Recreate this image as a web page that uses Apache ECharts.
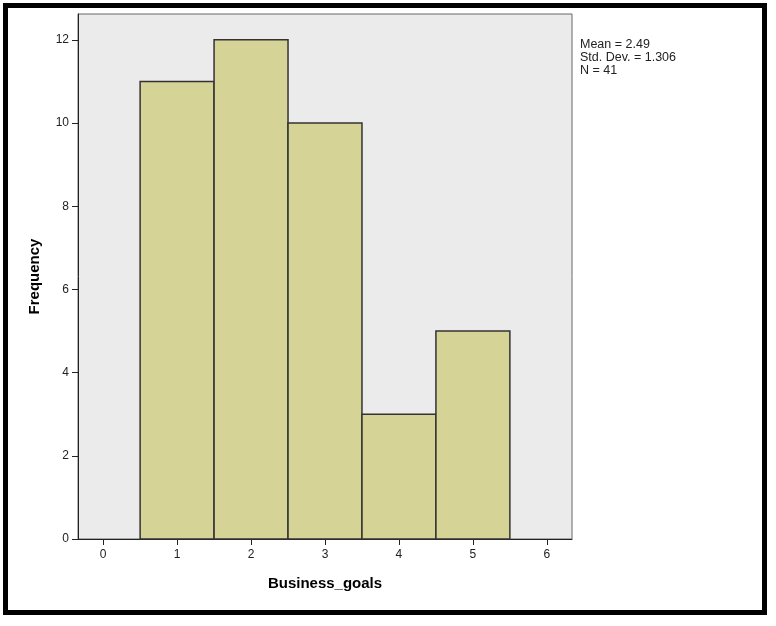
<!DOCTYPE html>
<html><head><meta charset="utf-8">
<script src="https://cdn.jsdelivr.net/npm/echarts@6/dist/echarts.min.js"></script>
<style>html,body{margin:0;padding:0;background:#fff}#c{width:776px;height:626px}</style>
</head><body><div id="c"></div>
<script>
const binStarts = [0.5, 1.5, 2.5, 3.5, 4.5];
const binEnds = [1.5, 2.5, 3.5, 4.5, 5.5];
const frequencies = [11, 12, 10, 3, 5];
const xTicks = [0, 1, 2, 3, 4, 5, 6];
const yTicks = [0, 2, 4, 6, 8, 10, 12];
const statsLines = ['Mean = 2.49', 'Std. Dev. = 1.306', 'N = 41'];
const xTitle = 'Business_goals';
const yTitle = 'Frequency';

const chart = echarts.init(document.getElementById('c'), null, {renderer: 'canvas'});
const data = frequencies.map((f, i) => [binStarts[i], binEnds[i], f]);
const font = 'Liberation Sans, Arial, sans-serif';
chart.setOption({
  animation: false,
  grid: {left: 78, top: 14, width: 494, height: 525, show: true, backgroundColor: '#ebebeb', borderColor: '#666', borderWidth: 1},
  xAxis: {
    type: 'value', min: -0.34, max: 6.34,
    name: xTitle, nameLocation: 'middle', nameGap: 37,
    nameTextStyle: {fontFamily: font, fontSize: 15, fontWeight: 'bold', color: '#000'},
    axisLine: {show: true, onZero: false, lineStyle: {color: '#222', width: 1}},
    axisTick: {show: true, customValues: xTicks, length: 6, lineStyle: {color: '#222'}},
    axisLabel: {customValues: xTicks, fontFamily: font, fontSize: 12, color: '#222', margin: 10},
    splitLine: {show: false}
  },
  yAxis: {
    type: 'value', min: 0, max: 12.62,
    name: yTitle, nameLocation: 'middle', nameGap: 36, nameRotate: 90,
    nameTextStyle: {fontFamily: font, fontSize: 15, fontWeight: 'bold', color: '#000'},
    axisLine: {show: true, onZero: false, lineStyle: {color: '#222', width: 1}},
    axisTick: {show: true, customValues: yTicks, length: 6, lineStyle: {color: '#222'}},
    axisLabel: {customValues: yTicks, fontFamily: font, fontSize: 12, color: '#222', margin: 9},
    splitLine: {show: false}
  },
  series: [{
    type: 'custom',
    data: data,
    renderItem: function (params, api) {
      const p0 = api.coord([api.value(0), api.value(2)]);
      const p1 = api.coord([api.value(1), 0]);
      return {
        type: 'rect',
        shape: {x: p0[0], y: p0[1], width: p1[0] - p0[0], height: p1[1] - p0[1]},
        style: {fill: '#d6d396', stroke: '#333', lineWidth: 1.5}
      };
    },
    encode: {x: [0, 1], y: 2}
  }],
  graphic: [
    {type: 'rect', shape: {x: 5.5, y: 5.5, width: 759, height: 607}, style: {fill: null, stroke: '#000', lineWidth: 5}},
    {type: 'text', left: 580, top: 38, style: {text: statsLines.join('\n'), font: '12.5px ' + font, fill: '#222', lineHeight: 13}}
  ]
});
</script></body></html>
